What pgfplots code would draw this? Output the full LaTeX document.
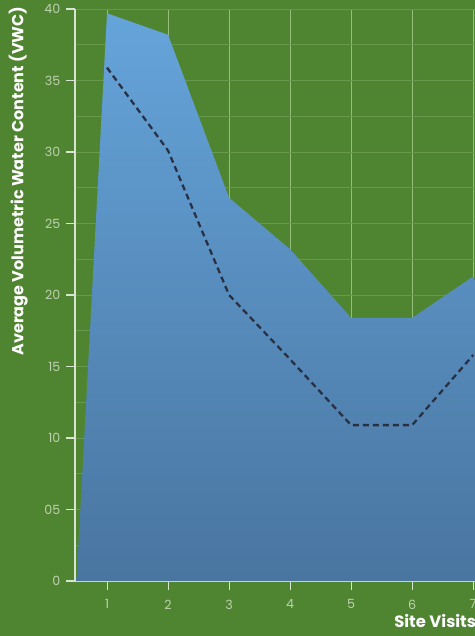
\documentclass[border=0pt]{standalone}
\usepackage{pgfplots}
\pgfplotsset{compat=1.18}
\usepackage{fontspec}
\setmainfont{Poppins}
\definecolor{bg}{RGB}{79,133,48}
\definecolor{topblue}{RGB}{101,164,218}
\definecolor{botblue}{RGB}{73,117,160}
\definecolor{ticktxt}{RGB}{190,208,178}
\definecolor{axline}{RGB}{215,228,210}
\definecolor{vgrid}{RGB}{150,188,122}
\definecolor{hgrid}{RGB}{104,152,76}
\definecolor{dashcol}{RGB}{40,48,66}
\begin{document}
\begin{tikzpicture}
\fill[bg] (-56.25pt,-41.25pt) rectangle (300pt,435.75pt);
\useasboundingbox (-56.25pt,-41.25pt) rectangle (300pt,435.75pt);
\begin{axis}[
  at={(0pt,0pt)}, anchor=origin,
  scale only axis, width=300pt, height=429pt,
  xmin=0.475, xmax=7.03, ymin=0, ymax=40,
  axis x line=bottom, axis y line=left,
  axis line style={-, axline, line width=0.8pt},
  xtick={1,2,3,4,5,6,7},
  ytick={0,5,10,15,20,25,30,35,40},
  yticklabels={0,05,10,15,20,25,30,35,40},
  minor ytick={2.5,7.5,12.5,17.5,22.5,27.5,32.5,37.5},
  tick style={axline, line width=0.8pt},
  major tick length=6.5pt,
  minor tick length=0pt,
  tick align=outside,
  ymajorgrids, yminorgrids, xmajorgrids,
  major grid style={hgrid, line width=0.5pt},
  minor grid style={hgrid, line width=0.5pt},
  x grid style={vgrid, line width=0.6pt},
  ticklabel style={font=\fontsize{9.5}{11}\selectfont, text=ticktxt},
  /pgf/number format/assume math mode=true,
  yticklabel style={xshift=-1pt},
  xticklabel style={yshift=-4pt},
  clip=false,
]
\addplot[draw=none, top color=topblue, bottom color=botblue] coordinates {
  (0.5,0) (1,39.7) (2,38.2) (3,26.8) (4,23.2) (5,18.4) (6,18.4) (7,21.3) (7.03,21.0) (7.03,0)
} -- cycle;
\addplot[dashcol, line width=1.7pt, dash pattern=on 4.5pt off 3pt] coordinates {
  (1,35.9) (2,30.1) (3,20.0) (4,15.5) (5,10.9) (6,10.9) (7,15.8)
};
\end{axis}
\node[rotate=90, text=white, font=\fontsize{12}{14}\selectfont\bfseries] at (-42.5pt,300pt) {Average Volumetric Water Content (VWC)};
\node[anchor=base east, text=white, font=\fontsize{12.3}{14}\selectfont\bfseries, inner sep=0pt] at (301pt,-34.5pt) {Site Visits};
\end{tikzpicture}
\end{document}
